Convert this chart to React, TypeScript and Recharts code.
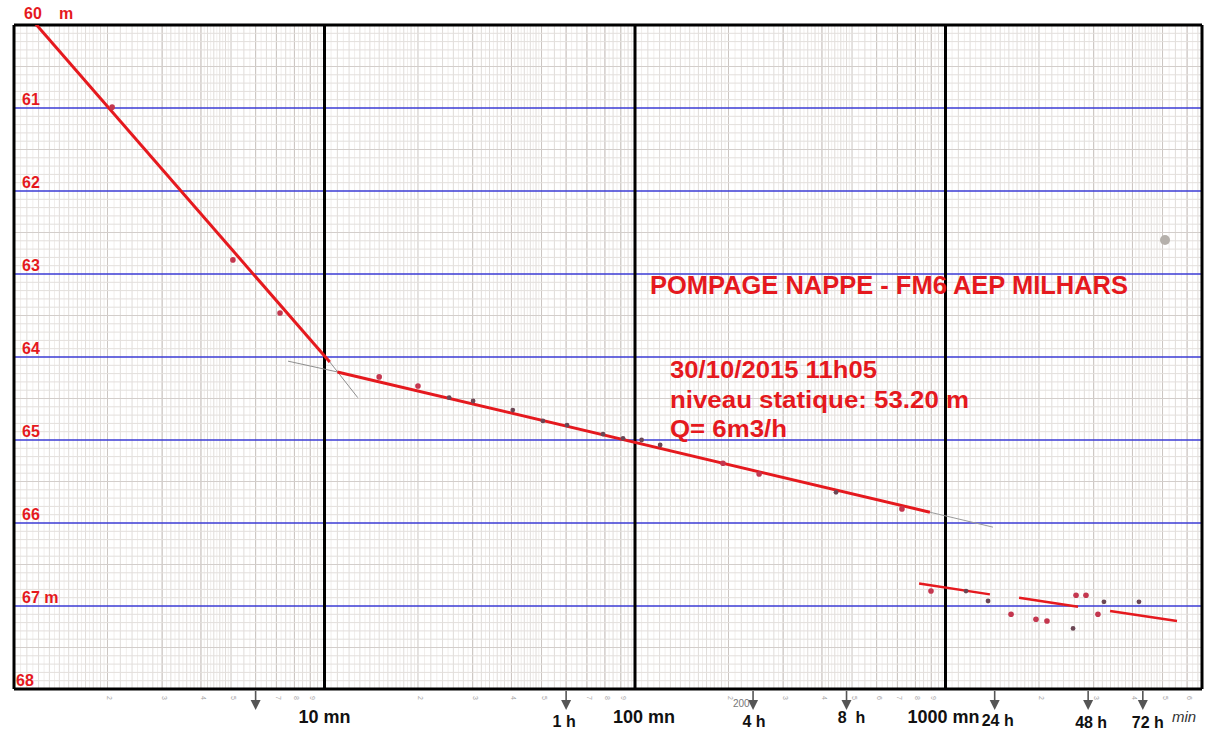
import React from 'react';
import { ComposedChart, Line, Scatter, XAxis, YAxis, ReferenceLine } from 'recharts';

const W = 1206;
const H = 731;
const PLOT_TOP = 25;
const PLOT_BOTTOM = 689;
const T_MAX = 6700;
const RED = '#e5191e';
const INK = '#111';
const FONT = '"Liberation Sans", Arial, sans-serif';

// straight-line fits drawn on the drawdown (t in min, level in m)
const fitEarly = [{ t: 1.17, h: 59.98 }, { t: 10.4, h: 64.06 }];
const fitMain = [{ t: 11.0, h: 64.18 }, { t: 891, h: 65.87 }];
const fitLateA = [{ t: 822, h: 66.73 }, { t: 1390, h: 66.86 }];
const fitLateB = [{ t: 1726, h: 66.9 }, { t: 2672, h: 67.01 }];
const fitLateC = [{ t: 3388, h: 67.06 }, { t: 5566, h: 67.18 }];

// pencil construction lines
const pencilBack = [{ t: 7.63, h: 64.05 }, { t: 11.0, h: 64.18 }];
const pencilEarly = [{ t: 10.4, h: 64.06 }, { t: 12.8, h: 64.49 }];
const pencilRight = [{ t: 891, h: 65.87 }, { t: 1422, h: 66.05 }];

// levels read during the test
const redReadings = [
  { t: 2.07, h: 60.99 }, { t: 5.07, h: 62.83 }, { t: 7.19, h: 63.47 },
  { t: 15, h: 64.24 }, { t: 20, h: 64.35 }, { t: 192, h: 65.28 },
  { t: 251, h: 65.41 }, { t: 724, h: 65.83 }, { t: 898, h: 66.82 },
  { t: 1626, h: 67.1 }, { t: 1956, h: 67.16 }, { t: 2122, h: 67.18 },
  { t: 2633, h: 66.87 }, { t: 2834, h: 66.87 }, { t: 3097, h: 67.1 },
];
const pencilReadings = [
  { t: 25.2, h: 64.49 }, { t: 30.1, h: 64.53 }, { t: 40.4, h: 64.64 },
  { t: 50.5, h: 64.77 }, { t: 60.4, h: 64.82 }, { t: 78.9, h: 64.93 },
  { t: 91.5, h: 64.98 }, { t: 105, h: 65.0 }, { t: 120.5, h: 65.06 },
  { t: 444, h: 65.63 }, { t: 1164, h: 66.82 }, { t: 1371, h: 66.94 },
  { t: 2575, h: 67.27 }, { t: 3238, h: 66.95 }, { t: 4198, h: 66.95 },
];
const stains = [{ t: 5093, h: 62.59 }];

// axis marks
const levelTicks = [60, 61, 62, 63, 64, 65, 66, 67, 68];
const levelLines = [61, 62, 63, 64, 65, 66, 67];
const decadeTicks = [10, 100, 1000];
const decadeLabels = ['10 mn', '100 mn', '1000 mn'];
const decadeDx = [0, 9, -2];
const hourTicks = [6, 60, 240, 480, 1440, 2880, 4320];
const hourLabels = ['', '1 h', '4 h', '8  h', '24 h', '48 h', '72 h'];
const hourDx = [0, -2, 1, 5, 3, 3, 5];
const hourDy = [0, 38, 38, 34, 37, 39, 39];
const decades = [1, 10, 100, 1000];
const cycleDigits = [2, 3, 4, 5, 6, 7, 8, 9];

// log paper ruling
const paperDigitTicks: number[] = [];
const rulingMajor: number[] = [];
const rulingMinor: number[] = [];
const rulingFine: number[] = [];
decades.forEach((d) => {
  cycleDigits.forEach((k) => {
    if (d * k < T_MAX) {
      paperDigitTicks.push(d * k);
      rulingMajor.push(d * k);
    }
  });
  const steps: [number, number, number][] = [[1, 2, 0.1], [2, 5, 0.2], [5, 10, 0.5]];
  steps.forEach(([a, b, s]) => {
    const n = Math.round((b - a) / s);
    for (let i = 0; i < n; i++) {
      const base = a + i * s;
      const mid = d * (base + s / 2);
      if (mid < T_MAX) rulingFine.push(mid);
      if (i > 0) {
        const v = d * base;
        if (v < T_MAX) rulingMinor.push(v);
      }
    }
  });
});
const levelRuling: number[] = [];
for (let i = 1; i < 80; i++) {
  if (i % 10 !== 0) levelRuling.push(Math.round((60 + i / 10) * 10) / 10);
}

const bottomTicks = Array.from(new Set([...decadeTicks, ...hourTicks, ...paperDigitTicks])).sort((a, b) => a - b);

const PaperDigit = ({ x, y, v }: { x: number; y: number; v: number }) => {
  let k = v;
  while (k >= 10) k = k / 10;
  return (
    <text x={x} y={y} transform={`rotate(90 ${x} ${y})`} textAnchor="middle" fontSize={7} fill="#a5a5a5" fontFamily={FONT}>
      {Math.round(k)}
    </text>
  );
};

const BottomTick = (props: any) => {
  const { x, payload } = props;
  const v = payload.value;
  const di = decadeTicks.indexOf(v);
  if (di >= 0) {
    return (
      <text x={x + decadeDx[di]} y={PLOT_BOTTOM + 34} textAnchor="middle" fontSize={18} fontWeight="bold" fill={INK} fontFamily={FONT}>
        {decadeLabels[di]}
      </text>
    );
  }
  const hi = hourTicks.indexOf(v);
  if (hi >= 0) {
    const top = PLOT_BOTTOM + 2;
    return (
      <g>
        <line x1={x} x2={x} y1={top} y2={top + 10} stroke="#555" strokeWidth={1.6} />
        <path d={`M${x - 5},${top + 9} L${x + 5},${top + 9} L${x},${top + 19} Z`} fill="#555" />
        {hourLabels[hi] && (
          <text x={x + hourDx[hi]} y={PLOT_BOTTOM + hourDy[hi]} textAnchor="middle" fontSize={16} fontWeight="bold" fill={INK} fontFamily={FONT} style={{ whiteSpace: 'pre' }}>
            {hourLabels[hi]}
          </text>
        )}
      </g>
    );
  }
  return <PaperDigit x={x} y={PLOT_BOTTOM + 9} v={v} />;
};

const TopTick = (props: any) => <PaperDigit x={props.x} y={16} v={props.payload.value} />;

const LevelTick = (props: any) => {
  const { y, payload } = props;
  const v = payload.value;
  const common = { fontSize: 16, fontWeight: 'bold' as const, fill: RED, fontFamily: FONT };
  if (v === 60) {
    return (
      <text x={24} y={y - 6} {...common}>
        60<tspan x={59}>m</tspan>
      </text>
    );
  }
  return (
    <text x={v === 68 ? 16 : 22} y={y - 3} {...common}>
      {v === 67 ? '67 m' : v}
    </text>
  );
};

const dot = (fill: string, r: number) => (p: any) => <circle cx={p.cx} cy={p.cy} r={r} fill={fill} />;

const noteStyle = { fontWeight: 'bold' as const, fill: RED, fontFamily: FONT };

export default function App() {
  return (
    <div style={{ position: 'fixed', left: 0, top: 0, width: W, height: H, background: '#fff' }}>
      <ComposedChart width={W} height={H} margin={{ top: 0, right: 4, bottom: 0, left: 14 }}>
        <XAxis
          dataKey="t"
          type="number"
          scale="log"
          domain={[1, T_MAX]}
          allowDataOverflow
          ticks={bottomTicks}
          interval={0}
          height={H - PLOT_BOTTOM}
          axisLine={false}
          tickLine={false}
          tick={<BottomTick />}
        />
        <XAxis
          xAxisId="top"
          orientation="top"
          type="number"
          scale="log"
          domain={[1, T_MAX]}
          allowDataOverflow
          ticks={paperDigitTicks}
          interval={0}
          height={PLOT_TOP}
          axisLine={false}
          tickLine={false}
          tick={<TopTick />}
        />
        <YAxis
          dataKey="h"
          type="number"
          domain={[60, 68]}
          reversed
          allowDataOverflow
          ticks={levelTicks}
          interval={0}
          mirror
          axisLine={false}
          tickLine={false}
          tick={<LevelTick />}
        />

        {rulingFine.map((v) => (
          <ReferenceLine key={`f${v}`} x={v} stroke="#f1eeec" strokeWidth={1} />
        ))}
        {rulingMinor.map((v) => (
          <ReferenceLine key={`m${v}`} x={v} stroke="#e0dcd9" strokeWidth={1} />
        ))}
        {rulingMajor.map((v) => (
          <ReferenceLine key={`M${v}`} x={v} stroke="#cbc5c1" strokeWidth={1} />
        ))}
        {levelRuling.map((v) => (
          <ReferenceLine key={`h${v}`} y={v} stroke={Math.round(v * 10) % 5 === 0 ? '#d3cecb' : '#e3dfdc'} strokeWidth={1} />
        ))}
        {levelLines.map((v) => (
          <ReferenceLine key={`b${v}`} y={v} stroke="#3b3bd4" strokeWidth={1.6} />
        ))}
        {decadeTicks.map((v) => (
          <ReferenceLine key={`d${v}`} x={v} stroke="#000" strokeWidth={3} />
        ))}
        <ReferenceLine x={1} stroke="#000" strokeWidth={3} />
        <ReferenceLine x={T_MAX} stroke="#000" strokeWidth={3} />
        <ReferenceLine y={60} stroke="#000" strokeWidth={3} />
        <ReferenceLine y={68} stroke="#000" strokeWidth={3} />

        <Line data={pencilBack} dataKey="h" stroke="#8e8e8e" strokeWidth={1} dot={false} isAnimationActive={false} />
        <Line data={pencilEarly} dataKey="h" stroke="#8e8e8e" strokeWidth={1} dot={false} isAnimationActive={false} />
        <Line data={pencilRight} dataKey="h" stroke="#9a9a9a" strokeWidth={1} dot={false} isAnimationActive={false} />

        <Line data={fitEarly} dataKey="h" stroke={RED} strokeWidth={3} dot={false} isAnimationActive={false} />
        <Line data={fitMain} dataKey="h" stroke={RED} strokeWidth={3} dot={false} isAnimationActive={false} />
        <Line data={fitLateA} dataKey="h" stroke={RED} strokeWidth={2.5} dot={false} isAnimationActive={false} />
        <Line data={fitLateB} dataKey="h" stroke={RED} strokeWidth={2.5} dot={false} isAnimationActive={false} />
        <Line data={fitLateC} dataKey="h" stroke={RED} strokeWidth={2.5} dot={false} isAnimationActive={false} />

        <Scatter data={pencilReadings} shape={dot('#6b4755', 2.4)} isAnimationActive={false} />
        <Scatter data={redReadings} shape={dot('#c4374f', 2.8)} isAnimationActive={false} />
        <Scatter data={stains} shape={dot('#b5b0ab', 5)} isAnimationActive={false} />
      </ComposedChart>

      {/* handwritten notes laid over the graph paper */}
      <svg width={W} height={H} style={{ position: 'absolute', left: 0, top: 0, pointerEvents: 'none' }}>
        <text x={650} y={294} fontSize={25} textLength={478} lengthAdjust="spacingAndGlyphs" {...noteStyle}>
          POMPAGE NAPPE - FM6 AEP MILHARS
        </text>
        <text x={670} y={378} fontSize={23} textLength={207} lengthAdjust="spacingAndGlyphs" {...noteStyle}>
          30/10/2015 11h05
        </text>
        <text x={670} y={408} fontSize={23} textLength={299} lengthAdjust="spacingAndGlyphs" {...noteStyle}>
          niveau statique: 53.20 m
        </text>
        <text x={670} y={437} fontSize={23} textLength={117} lengthAdjust="spacingAndGlyphs" {...noteStyle}>
          Q= 6m3/h
        </text>
        <text x={733} y={707} fontSize={10} fill="#777" fontFamily={FONT}>
          200
        </text>
        <text x={1172} y={722} fontSize={15} fontStyle="italic" fill="#333" fontFamily={FONT}>
          min
        </text>
      </svg>
    </div>
  );
}
